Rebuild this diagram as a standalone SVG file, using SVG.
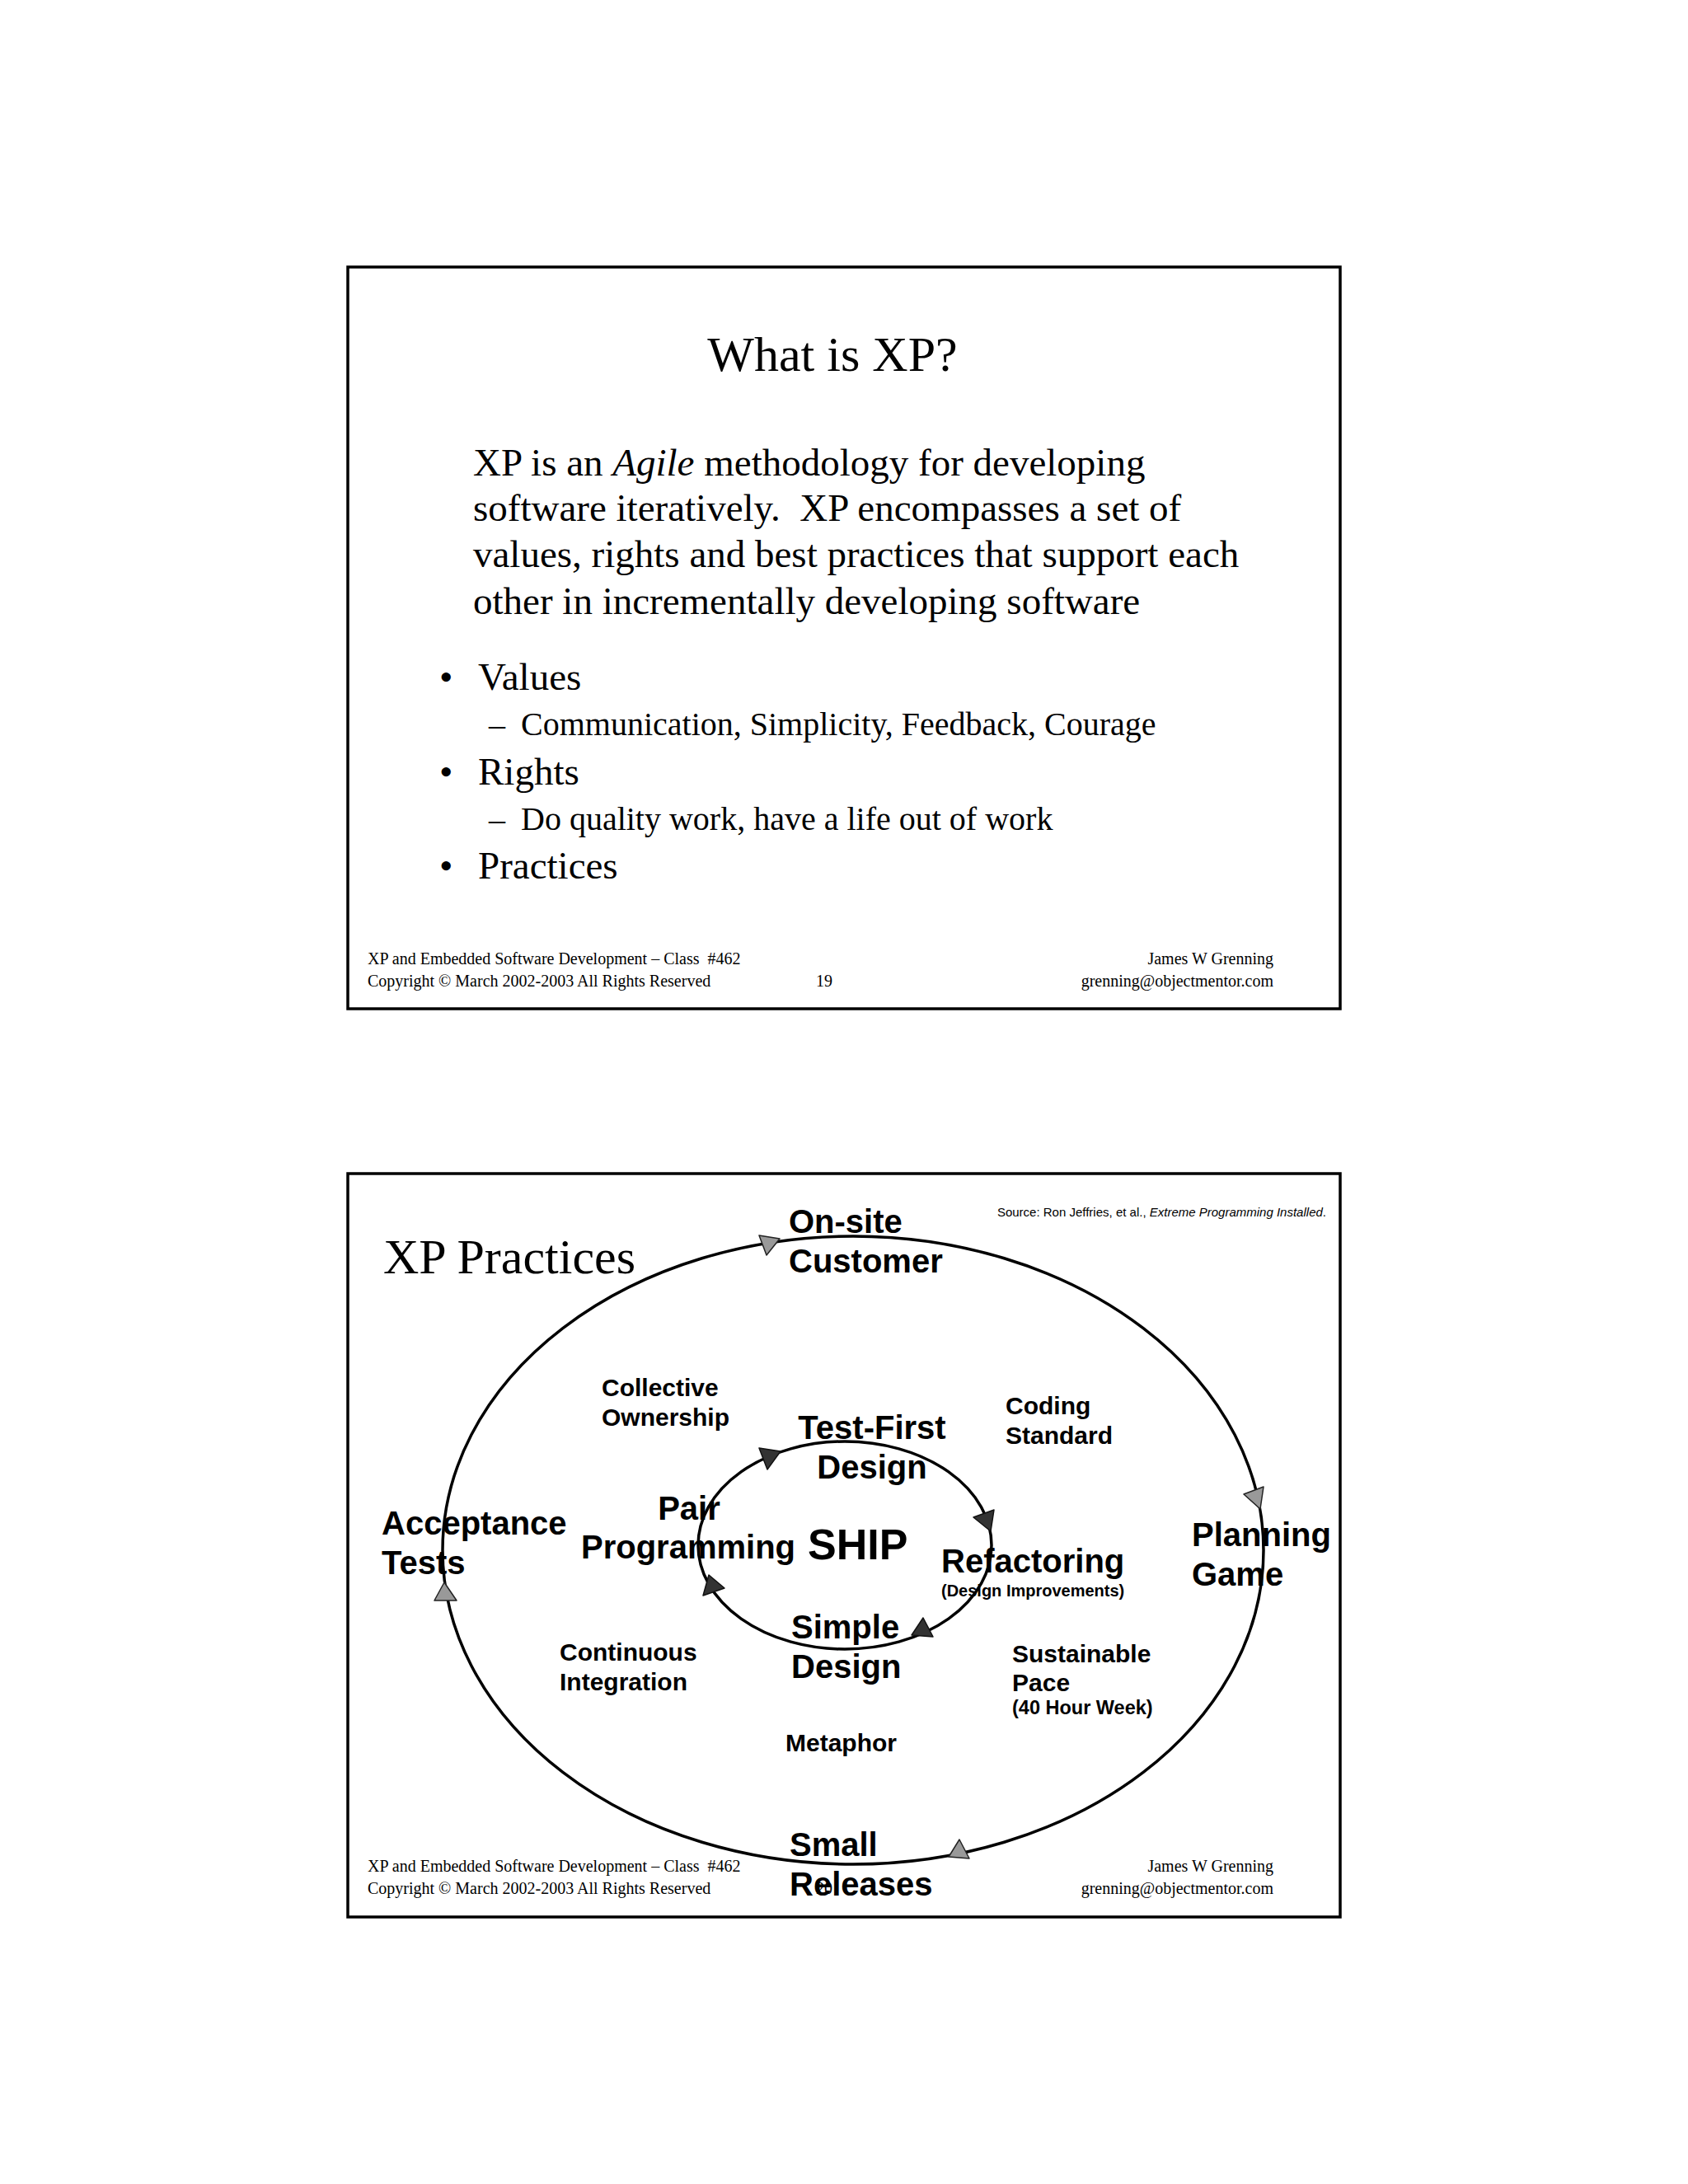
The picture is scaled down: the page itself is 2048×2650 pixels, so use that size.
<svg xmlns="http://www.w3.org/2000/svg" width="2048" height="2650" viewBox="0 0 2048 2650">
<style>
.frame{fill:none;stroke:#000;stroke-width:3.5}
.tnr{font-family:"Liberation Serif","Times New Roman",serif;fill:#000}
.title{font-size:60px}
.body{font-size:47px}
.sub{font-size:40px}
.foot{font-size:20px}
.ar{font-family:"Liberation Sans",Arial,sans-serif;font-weight:bold;fill:#000}
.big{font-size:40px}
.mid{font-size:30px}
.sm{font-size:20px}
.ring{fill:none;stroke:#000;stroke-width:3.5}
.oa{fill:#999;stroke:#222;stroke-width:1.5;stroke-linejoin:round}
.ia{fill:#333;stroke:#111;stroke-width:1.5;stroke-linejoin:round}
</style>
<rect width="2048" height="2650" fill="#fff"/>

<g id="slide1">
  <rect class="frame" x="422" y="324" width="1204" height="900"/>
  <text class="tnr title" x="1010" y="450" text-anchor="middle">What is XP?</text>
  <g class="tnr body">
    <text x="574" y="577">XP is an <tspan font-style="italic">Agile</tspan> methodology for developing</text>
    <text x="574" y="632" xml:space="preserve">software iteratively.  XP encompasses a set of</text>
    <text x="574" y="688">values, rights and best practices that support each</text>
    <text x="574" y="745">other in incrementally developing software</text>
  </g>
  <g class="tnr body">
    <text x="533" y="837">•</text><text x="580" y="837">Values</text>
    <text x="533" y="952">•</text><text x="580" y="952">Rights</text>
    <text x="533" y="1066">•</text><text x="580" y="1066">Practices</text>
  </g>
  <g class="tnr sub">
    <text x="593" y="892">–</text><text x="632" y="892">Communication, Simplicity, Feedback, Courage</text>
    <text x="593" y="1007">–</text><text x="632" y="1007">Do quality work, have a life out of work</text>
  </g>
  <g class="tnr foot">
    <text x="446" y="1170" xml:space="preserve">XP and Embedded Software Development – Class  #462</text>
    <text x="446" y="1197">Copyright © March 2002-2003 All Rights Reserved</text>
    <text x="1000" y="1197" text-anchor="middle">19</text>
    <text x="1545" y="1170" text-anchor="end">James W Grenning</text>
    <text x="1545" y="1197" text-anchor="end">grenning@objectmentor.com</text>
  </g>
</g>

<g id="slide2">
  <rect class="frame" x="422" y="1424" width="1204" height="902"/>
  <text class="tnr title" x="465" y="1545">XP Practices</text>
  <text x="1609" y="1476" text-anchor="end" font-family="'Liberation Sans',Arial,sans-serif" font-size="15" fill="#000">Source: Ron Jeffries, et al., <tspan font-style="italic">Extreme Programming Installed</tspan>.</text>
  <g class="tnr foot">
    <text x="446" y="2271" xml:space="preserve">XP and Embedded Software Development – Class  #462</text>
    <text x="446" y="2298">Copyright © March 2002-2003 All Rights Reserved</text>
    <text x="1000" y="2298" text-anchor="middle">20</text>
    <text x="1545" y="2271" text-anchor="end">James W Grenning</text>
    <text x="1545" y="2298" text-anchor="end">grenning@objectmentor.com</text>
  </g>
</g>

<g id="connectors">
  <ellipse id="outer-cycle" class="ring" cx="1035" cy="1881" rx="498" ry="381"/>
  <ellipse id="inner-cycle" class="ring" cx="1025" cy="1875" rx="178" ry="126"/>
  <polygon class="oa" points="921,1499 946,1503 930,1523"/>
  <polygon class="oa" points="1509,1813 1533,1804 1529,1831"/>
  <polygon class="oa" points="1164,2232 1151,2253 1176,2255"/>
  <polygon class="oa" points="539,1920 527,1942 554,1942"/>
  <polygon class="ia" points="921,1757 947,1761 931,1783"/>
  <polygon class="ia" points="1181,1841 1206,1832 1202,1858"/>
  <polygon class="ia" points="1120,1963 1106,1984 1132,1986"/>
  <polygon class="ia" points="860,1911 853,1936 879,1927"/>
</g>

<g id="node-onsite-customer" class="ar big"><text x="957" y="1496">On-site</text><text x="957" y="1544">Customer</text></g>
<g id="node-collective-ownership" class="ar mid"><text x="730" y="1694">Collective</text><text x="730" y="1730">Ownership</text></g>
<g id="node-coding-standard" class="ar mid"><text x="1220" y="1716">Coding</text><text x="1220" y="1752">Standard</text></g>
<g id="node-test-first-design" class="ar big"><text x="1058" y="1746" text-anchor="middle">Test-First</text><text x="1058" y="1794" text-anchor="middle">Design</text></g>
<g id="node-acceptance-tests" class="ar big"><text x="463" y="1862">Acceptance</text><text x="463" y="1910">Tests</text></g>
<g id="node-pair-programming" class="ar big"><text x="836" y="1844" text-anchor="middle">Pair</text><text x="705" y="1891">Programming</text></g>
<g id="node-ship" class="ar"><text x="980" y="1892" font-size="52">SHIP</text></g>
<g id="node-refactoring" class="ar"><text class="big" x="1142" y="1908">Refactoring</text><text class="sm" x="1142" y="1937">(Design Improvements)</text></g>
<g id="node-planning-game" class="ar big"><text x="1446" y="1876">Planning</text><text x="1446" y="1924">Game</text></g>
<g id="node-simple-design" class="ar big"><text x="960" y="1988">Simple</text><text x="960" y="2036">Design</text></g>
<g id="node-continuous-integration" class="ar mid"><text x="679" y="2015">Continuous</text><text x="679" y="2051">Integration</text></g>
<g id="node-sustainable-pace" class="ar"><text class="mid" x="1228" y="2017">Sustainable</text><text class="mid" x="1228" y="2052">Pace</text><text x="1228" y="2080" font-size="23.5">(40 Hour Week)</text></g>
<g id="node-metaphor" class="ar mid"><text x="953" y="2125">Metaphor</text></g>
<g id="node-small-releases" class="ar big"><text x="958" y="2252">Small</text><text x="958" y="2300">Releases</text></g>
</svg>
